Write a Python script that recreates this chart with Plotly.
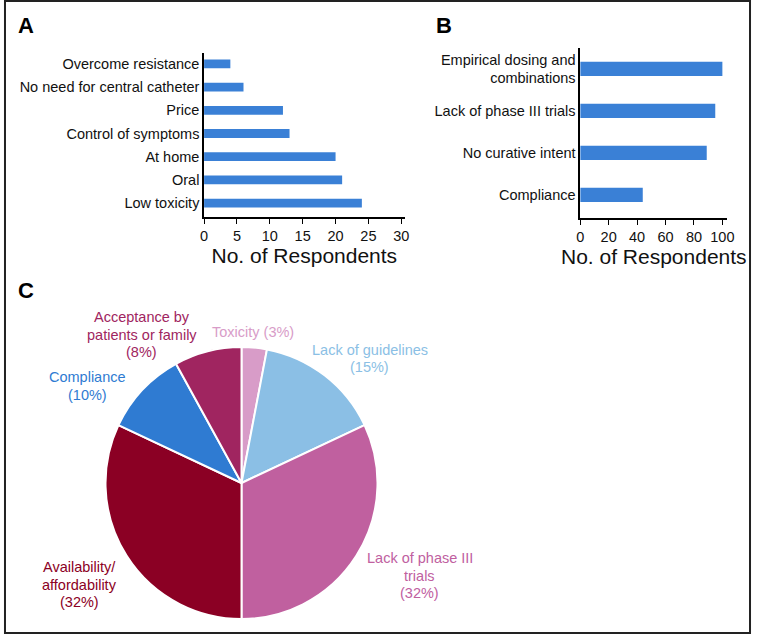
import plotly.graph_objects as go

# Panel A data (bottom to top)
a_categories = ["Low toxicity", "Oral", "At home", "Control of symptoms", "Price",
                "No need for central catheter", "Overcome resistance"]
a_values = [24, 21, 20, 13, 12, 6, 4]
a_ticks = [0, 5, 10, 15, 20, 25, 30]

# Panel B data (bottom to top)
b_categories = ["Compliance", "No curative intent", "Lack of phase III trials",
                "Empirical dosing and<br>combinations"]
b_values = [44, 89, 95, 100]
b_ticks = [0, 20, 40, 60, 80, 100]

# Panel C data (clockwise from top)
c_labels = ["Toxicity", "Lack of guidelines", "Lack of phase III trials",
            "Availability/affordability", "Compliance", "Acceptance by patients or family"]
c_label_lines = [["Toxicity"], ["Lack of guidelines"], ["Lack of phase III", "trials"],
                 ["Availability/", "affordability"], ["Compliance"],
                 ["Acceptance by", "patients or family"]]
c_values = [3, 15, 32, 32, 10, 8]
c_colors = ["#d89cc8", "#8bbfe5", "#c0609f", "#8b0024", "#2f7bd2", "#a02560"]

W, H = 758, 634
FONT = "Liberation Sans, Arial, sans-serif"
BAR = "#3a80d6"

def px(x):
    return x / W

def py(y):
    return 1 - y / H

fig = go.Figure()

fig.add_trace(go.Bar(x=a_values, y=list(range(len(a_categories))), orientation="h",
                     marker=dict(color=BAR, line=dict(width=0)), width=0.38,
                     xaxis="x", yaxis="y", showlegend=False))
fig.add_trace(go.Bar(x=b_values, y=list(range(len(b_categories))), orientation="h",
                     marker=dict(color=BAR, line=dict(width=0)), width=0.34,
                     xaxis="x2", yaxis="y2", showlegend=False))

fig.add_trace(go.Pie(values=c_values, labels=c_labels, sort=False, direction="clockwise",
                     rotation=0, marker=dict(colors=c_colors, line=dict(color="white", width=2)),
                     textinfo="none", showlegend=False,
                     domain=dict(x=[px(103), px(379)], y=[py(621), py(345)])))

axis_common = dict(showline=True, linecolor="black", linewidth=1.5, showgrid=False,
                   zeroline=False, ticks="outside", ticklen=5, tickwidth=1.2, tickcolor="black",
                   tickfont=dict(family=FONT, size=14.5, color="#111"))
title_font = dict(size=21, family=FONT, color="#111")

fig.update_layout(
    width=W, height=H, autosize=False,
    margin=dict(l=0, r=0, t=0, b=0),
    paper_bgcolor="white", plot_bgcolor="white",
    font=dict(family=FONT),
    xaxis=dict(domain=[px(203), px(406.5)], range=[0, 30.5], tickvals=a_ticks,
               anchor="y", title=dict(text="No. of Respondents", font=title_font, standoff=4),
               **axis_common),
    yaxis=dict(domain=[py(217), py(53)], range=[-0.6, 6.47], tickvals=list(range(len(a_categories))),
               ticktext=a_categories, anchor="x",
               **{**axis_common, "ticks": ""}),
    xaxis2=dict(domain=[px(584.7), px(734)], range=[0, 103.5], tickvals=b_ticks,
                anchor="y2", title=dict(text="No. of Respondents", font=title_font, standoff=4),
                **axis_common),
    yaxis2=dict(domain=[py(218), py(48)], range=[-0.55, 3.5], tickvals=list(range(len(b_categories))),
                ticktext=b_categories, anchor="x2",
                **{**axis_common, "ticks": ""}),
)

# panel letters
for letter, x, y in [("A", 12, 26), ("B", 436, 26), ("C", 12, 290)]:
    fig.add_annotation(text="<b>%s</b>" % letter, x=px(x), y=py(y), xref="paper", yref="paper",
                       xanchor="left", yanchor="middle", showarrow=False,
                       font=dict(family=FONT, size=22, color="black"))

# pie labels (center x, y of first line), one annotation per line
label_pos = [(253, 332), (371, 350), (422, 558), (77, 567), (85, 377), (140, 317)]
LINE = 17.5
for lines, v, col, (x, y) in zip(c_label_lines, c_values, c_colors, label_pos):
    if lines == ["Toxicity"]:
        all_lines = ["%s (%d%%)" % (lines[0], v)]
    else:
        all_lines = lines + ["(%d%%)" % v]
    for i, t in enumerate(all_lines):
        fig.add_annotation(text=t, x=px(x), y=py(y + i * LINE), xref="paper", yref="paper",
                           xanchor="center", yanchor="middle", showarrow=False,
                           font=dict(family=FONT, size=14.5, color=col))

# frame
fig.add_shape(type="rect", xref="paper", yref="paper", x0=px(1), x1=px(W - 1), y0=py(H - 1), y1=py(1),
              line=dict(color="#222", width=2), fillcolor="rgba(0,0,0,0)")

post = (
    "var s=document.createElement('style');"
    "s.innerHTML='html,body{margin:0;padding:0;overflow:hidden;width:758px;height:634px;}"
    ".plotly-graph-div{display:block;}';"
    "document.head.appendChild(s);"
)
fig.write_html("out.html", config={"displayModeBar": False}, post_script=post)
